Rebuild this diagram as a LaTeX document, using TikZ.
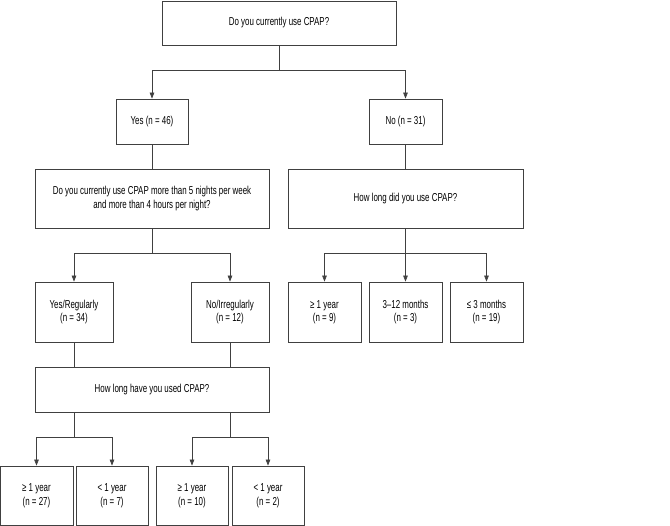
\documentclass[tikz,border=0pt]{standalone}
\usepackage{fontspec}
\setmainfont{Liberation Sans}[FakeStretch=0.69]
\usetikzlibrary{arrows.meta}

\begin{document}
\begin{tikzpicture}[x=1pt, y=-1pt,
    box/.style={draw=black!75, line width=0.7pt, align=center,
      inner sep=0pt, font=\fontsize{11.5}{13.5}\selectfont},
    link/.style={draw=black!75, line width=0.7pt},
    arr/.style={link, -{Triangle[length=6pt,width=4.5pt]}}]
    \useasboundingbox (0,0) rectangle (670,526);
    % first question and its answers
    \node [box, minimum width=234, minimum height=44] (cpap) at (279,23) {Do you currently use CPAP?};
    \node [box, minimum width=72, minimum height=45] (yes) at (152,121.5) {Yes (n = 46)};
    \node [box, minimum width=73, minimum height=45] (no) at (405.5,121.5) {No (n = 31)};
    \coordinate (s1) at (279,70);
    \draw [link] (cpap) -- (s1);
    \draw [arr] (s1) -| (yes);
    \draw [arr] (s1) -| (no);
    % second level questions
    \node [box, minimum width=234, minimum height=59] (freq) at (152,198.5)
      {Do you currently use CPAP more than 5 nights per week\\and more than 4 hours per night?};
    \node [box, minimum width=235, minimum height=59] (durno) at (405.5,198.5) {How long did you use CPAP?};
    \draw [link] (yes) -- (freq);
    \draw [link] (no) -- (durno);
    % regular use or not
    \node [box, minimum width=78, minimum height=60] (reg) at (74,312) {Yes/Regularly\\(n = 34)};
    \node [box, minimum width=78, minimum height=60] (irreg) at (230,312) {No/Irregularly\\(n = 12)};
    \coordinate (s2) at (152,253);
    \draw [link] (freq) -- (s2);
    \draw [arr] (s2) -| (reg);
    \draw [arr] (s2) -| (irreg);
    % duration of past use
    \node [box, minimum width=73, minimum height=60] (pge) at (324.5,312) {≥ 1 year\\(n = 9)};
    \node [box, minimum width=73, minimum height=60] (pmid) at (405.5,312) {3–12 months\\(n = 3)};
    \node [box, minimum width=73, minimum height=60] (ple) at (486.5,312) {≤ 3 months\\(n = 19)};
    \coordinate (s3) at (405.5,253);
    \draw [link] (durno) -- (s3);
    \foreach \n in {pge,pmid,ple}
      \draw [arr] (s3) -| (\n);
    % duration of current use
    \node [box, minimum width=234, minimum height=45] (duryes) at (152,389.5) {How long have you used CPAP?};
    \draw [link] (reg) -- (reg |- duryes.north);
    \draw [link] (irreg) -- (irreg |- duryes.north);
    \coordinate (s4) at (74,437);
    \coordinate (s5) at (230,437);
    \draw [link] (s4 |- duryes.south) -- (s4);
    \draw [link] (s5 |- duryes.south) -- (s5);
    \node [box, minimum width=73, minimum height=59] (rge) at (36.5,495.5) {≥ 1 year\\(n = 27)};
    \node [box, minimum width=72, minimum height=59] (rlt) at (112,495.5) {< 1 year\\(n = 7)};
    \node [box, minimum width=72, minimum height=59] (ige) at (192,495.5) {≥ 1 year\\(n = 10)};
    \node [box, minimum width=72, minimum height=59] (ilt) at (268,495.5) {< 1 year\\(n = 2)};
    \draw [arr] (s4) -| (rge);
    \draw [arr] (s4) -| (rlt);
    \draw [arr] (s5) -| (ige);
    \draw [arr] (s5) -| (ilt);
\end{tikzpicture}
\end{document}
